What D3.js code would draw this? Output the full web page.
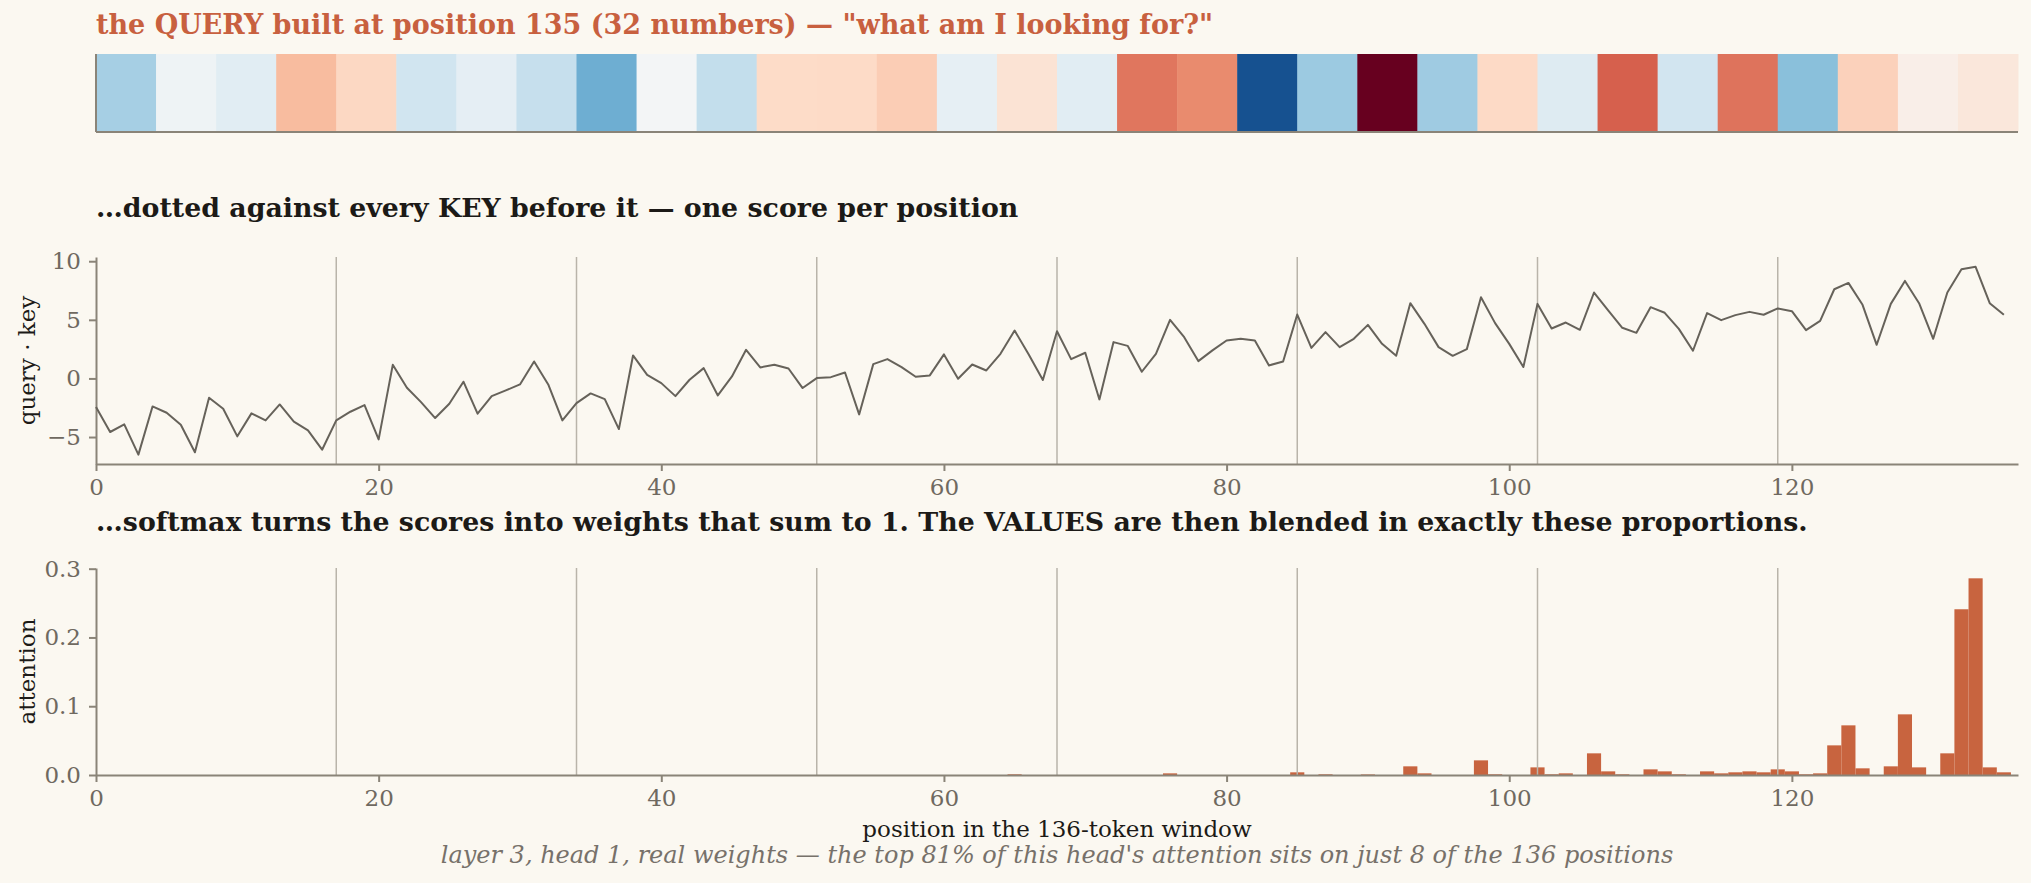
<!DOCTYPE html>
<html>
<head>
<meta charset="utf-8">
<script src="https://cdn.jsdelivr.net/npm/d3@7"></script>
<style>
  html, body { margin: 0; padding: 0; background: #fbf8f1; }
  svg { display: block; font-family: "DejaVu Serif", serif; }
</style>
</head>
<body>
<script>
// query vector, 32 numbers
const queryValues = [
  -0.84, -0.12, -0.29, 0.79, 0.53, -0.50, -0.24, -0.59, -1.23, -0.05, -0.61, 0.49, 0.50, 0.63, -0.23, 0.36,
  -0.29, 1.34, 1.19, -2.19, -0.92, 2.50, -0.90, 0.51, -0.33, 1.50, -0.49, 1.36, -1.05, 0.59, 0.16, 0.29
]

// query . key score for each of the 136 positions
const scores = [
  -2.44, -4.57, -3.92, -6.5, -2.39, -2.93, -3.95, -6.3, -1.65, -2.59, -4.94, -2.98, -3.58, -2.22, -3.69, -4.43, -6.08,
  -3.58, -2.84, -2.27, -5.2, 1.16, -0.8, -2.02, -3.38, -2.16, -0.28, -3.01, -1.51, -1.02, -0.51, 1.45, -0.51, -3.58,
  -2.1, -1.28, -1.76, -4.32, 1.96, 0.31, -0.4, -1.51, -0.11, 0.88, -1.45, 0.17, 2.44, 0.94, 1.16, 0.85, -0.82,
  0.03, 0.11, 0.51, -3.07, 1.22, 1.65, 0.97, 0.14, 0.26, 2.05, -0.03, 1.19, 0.68, 2.1, 4.09, 2.05, -0.14,
  4.03, 1.65, 2.19, -1.79, 3.1, 2.78, 0.57, 2.1, 5.0, 3.52, 1.48, 2.39, 3.24, 3.38, 3.24, 1.11, 1.45,
  5.45, 2.61, 3.95, 2.67, 3.38, 4.57, 2.95, 1.93, 6.42, 4.66, 2.67, 1.93, 2.5, 6.93, 4.72, 2.95, 0.97,
  6.36, 4.26, 4.77, 4.15, 7.33, 5.8, 4.32, 3.89, 6.08, 5.6, 4.23, 2.36, 5.57, 4.97, 5.4, 5.68, 5.43,
  5.97, 5.74, 4.12, 4.91, 7.61, 8.15, 6.28, 2.87, 6.36, 8.32, 6.42, 3.38, 7.33, 9.32, 9.52, 6.42, 5.43
]

// softmax weights
const attention = [
  0, 0, 0, 0, 0, 0, 0, 0, 0, 0, 0, 0, 0, 0, 0, 0, 0,
  0, 0, 0, 0, 0, 0, 0, 0, 0, 0, 0, 0, 0, 0, 0, 0, 0,
  0, 0, 0, 0, 0, 0, 0, 0, 0, 0, 0, 0, 0, 0, 0, 0, 0,
  0, 0, 0, 0, 0, 0, 0, 0, 0, 0, 0, 0, 0, 0, 0.001, 0, 0,
  0, 0, 0, 0, 0, 0, 0, 0, 0.0024, 0, 0, 0, 0, 0, 0, 0, 0,
  0.0039, 0, 0.001, 0, 0, 0.0008, 0, 0, 0.0126, 0.0024, 0, 0, 0, 0.0213, 0.001, 0, 0,
  0.0111, 0.001, 0.0024, 0, 0.0315, 0.0053, 0.001, 0, 0.0082, 0.0053, 0.001, 0, 0.0053, 0.0024, 0.0039, 0.0053, 0.0039,
  0.0082, 0.0053, 0.001, 0.0024, 0.0431, 0.0722, 0.0097, 0, 0.0126, 0.0882, 0.0111, 0, 0.0315, 0.241, 0.286, 0.0111, 0.0039
]

const blockEdges = [17, 34, 51, 68, 85, 102, 119]
const xTicks = [0, 20, 40, 60, 80, 100, 120]
const scoreTicks = [-5, 0, 5, 10]
const attnTicks = [0, 0.1, 0.2, 0.3]

const titles = [
  'the QUERY built at position 135 (32 numbers) \u2014 "what am I looking for?"',
  '\u2026dotted against every KEY before it \u2014 one score per position',
  '\u2026softmax turns the scores into weights that sum to 1. The VALUES are then blended in exactly these proportions.'
]
const xLabel = 'position in the 136-token window'
const caption = "layer 3, head 1, real weights \u2014 the top 81% of this head's attention sits on just 8 of the 136 positions"

const width = 2031, height = 883
const left = 96, right = 2018
const axisColor = '#8a8478', tickColor = '#6f6960', gridColor = '#b9b4aa'

const svg = d3.select('body').append('svg')
  .attr('width', width)
  .attr('height', height)

svg.append('rect').attr('width', width).attr('height', height).attr('fill', '#fbf8f1')

const x = d3.scaleLinear().domain([0, 136]).range([left, right])

// --- query strip
const strip = {top: 54, bottom: 132}
const cellX = d3.scaleBand().domain(d3.range(queryValues.length)).range([left, right])
const m = d3.max(queryValues, d => Math.abs(d))
const rdbu = d3.schemeRdBu[11].slice().reverse()
const color = d3.scaleLinear()
  .domain(d3.range(11).map(i => -m + i * (2 * m / 10)))
  .range(rdbu)
  .interpolate(d3.interpolateRgb)

svg.append('text')
  .attr('x', left).attr('y', 34)
  .attr('font-size', 27).attr('font-weight', 'bold')
  .attr('fill', '#c8603f')
  .text(titles[0])

svg.append('g').selectAll('rect')
  .data(queryValues)
  .enter().append('rect')
    .attr('x', (d, i) => cellX(i))
    .attr('y', strip.top)
    .attr('width', cellX.bandwidth() + 0.5)
    .attr('height', strip.bottom - strip.top)
    .attr('fill', d => color(d))

svg.append('line')
  .attr('x1', left).attr('x2', right).attr('y1', strip.bottom).attr('y2', strip.bottom)
  .attr('stroke', axisColor).attr('stroke-width', 2)
svg.append('line')
  .attr('x1', left).attr('x2', left).attr('y1', strip.top).attr('y2', strip.bottom)
  .attr('stroke', axisColor).attr('stroke-width', 2)

const styleAxis = g => {
  g.selectAll('.domain').attr('stroke', axisColor).attr('stroke-width', 2)
  g.selectAll('.tick line').attr('stroke', axisColor).attr('stroke-width', 2)
  g.selectAll('.tick text').attr('fill', tickColor).attr('font-size', 23)
    .attr('font-family', '"DejaVu Serif", serif')
}

const panel = (top, bottom, yScale, ticks, fmt, label, title, titleY) => {
  svg.append('text')
    .attr('x', left).attr('y', titleY)
    .attr('font-size', 26.8).attr('font-weight', 'bold')
    .attr('fill', '#1c1a17')
    .text(title)

  svg.append('g').selectAll('line')
    .data(blockEdges)
    .enter().append('line')
      .attr('x1', d => x(d)).attr('x2', d => x(d))
      .attr('y1', top).attr('y2', bottom)
      .attr('stroke', gridColor).attr('stroke-width', 1.5)

  svg.append('g')
    .attr('transform', `translate(0,${bottom})`)
    .call(d3.axisBottom(x).tickValues(xTicks).tickSize(7).tickPadding(8).tickSizeOuter(0))
    .call(styleAxis)

  svg.append('g')
    .attr('transform', `translate(${left},0)`)
    .call(d3.axisLeft(yScale).tickValues(ticks).tickFormat(fmt).tickSize(7).tickPadding(8).tickSizeOuter(0))
    .call(styleAxis)

  svg.append('text')
    .attr('transform', `translate(27,${(top + bottom) / 2}) rotate(-90)`)
    .attr('text-anchor', 'middle').attr('dy', '0.35em')
    .attr('font-size', 23).attr('fill', '#1c1a17')
    .text(label)
}

// --- scores
const sc = {top: 257, bottom: 464}
const yScore = d3.scaleLinear().domain([-7.3, 10.36]).range([sc.bottom, sc.top])
panel(sc.top, sc.bottom, yScore, scoreTicks, d3.format('d'), 'query \u00b7 key', titles[1], 217)

svg.append('path')
  .datum(scores)
  .attr('fill', 'none')
  .attr('stroke', '#66625a')
  .attr('stroke-width', 2)
  .attr('stroke-linejoin', 'round')
  .attr('d', d3.line().x((d, i) => x(i)).y(d => yScore(d)))

// --- attention
const at = {top: 568, bottom: 775}
const yAttn = d3.scaleLinear().domain([0, 0.301]).range([at.bottom, at.top])

svg.append('g').selectAll('rect')
  .data(attention)
  .enter().append('rect')
    .attr('x', (d, i) => Math.max(left, x(i - 0.5)))
    .attr('y', d => yAttn(d))
    .attr('width', (d, i) => x(i + 0.5) - Math.max(left, x(i - 0.5)))
    .attr('height', d => at.bottom - yAttn(d))
    .attr('fill', '#c8643f')

panel(at.top, at.bottom, yAttn, attnTicks, d3.format('.1f'), 'attention', titles[2], 531)

svg.append('text')
  .attr('x', (left + right) / 2).attr('y', 837)
  .attr('text-anchor', 'middle')
  .attr('font-size', 23).attr('fill', '#1c1a17')
  .text(xLabel)

svg.append('text')
  .attr('x', (left + right) / 2).attr('y', 863)
  .attr('text-anchor', 'middle')
  .attr('font-size', 24).attr('font-style', 'italic')
  .attr('fill', '#77716a')
  .text(caption)
</script>
</body>
</html>
